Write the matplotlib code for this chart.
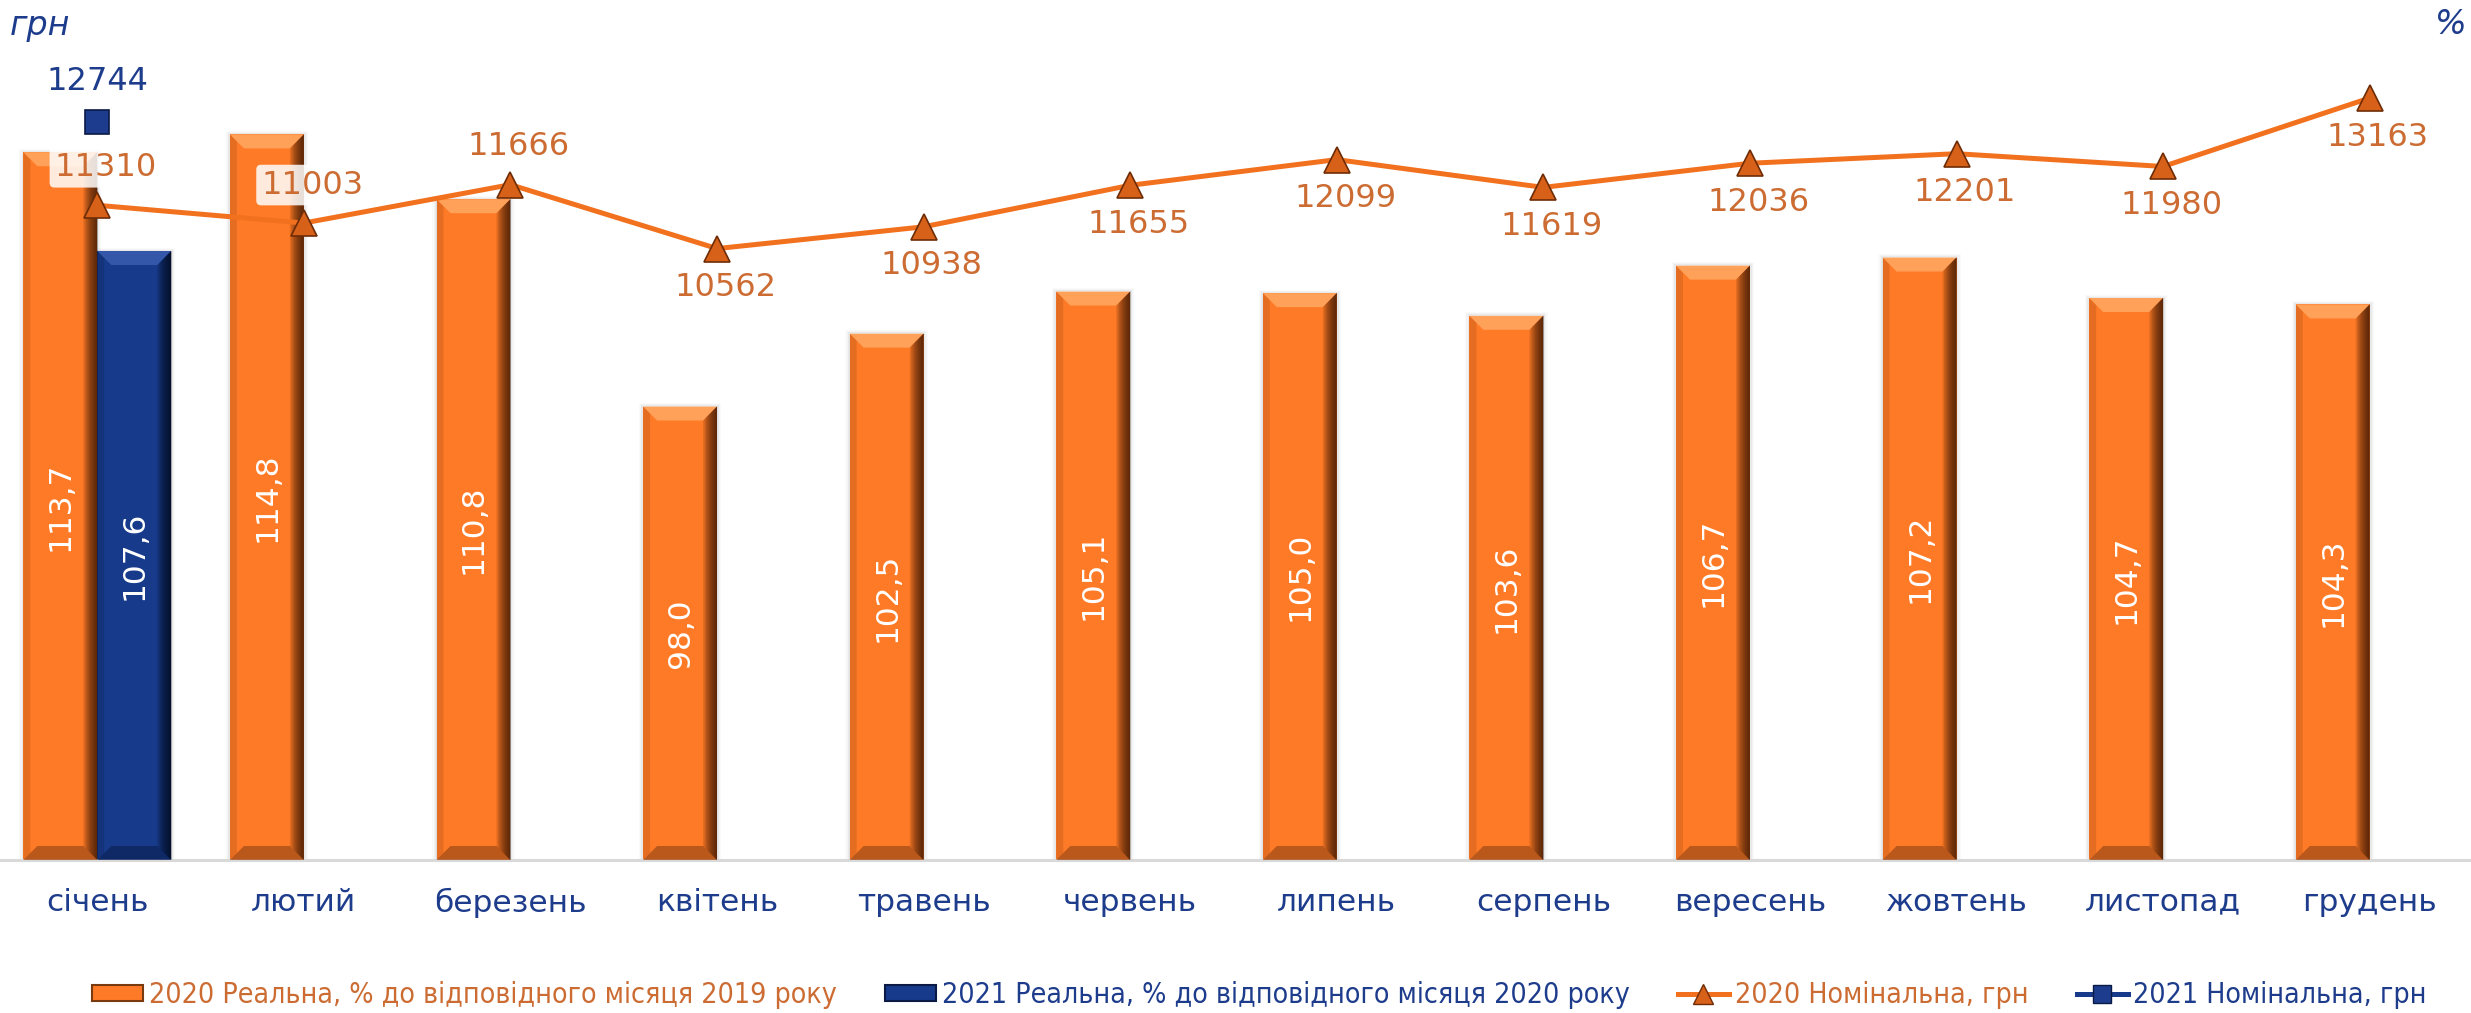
import matplotlib
matplotlib.use('Agg')
import matplotlib.pyplot as plt
from matplotlib.patches import Patch
from matplotlib.lines import Line2D
from matplotlib import font_manager as fm
import numpy as np

# ---------------- data ----------------
months = ['січень', 'лютий', 'березень', 'квітень', 'травень', 'червень',
          'липень', 'серпень', 'вересень', 'жовтень', 'листопад', 'грудень']
real_2020 = [113.7, 114.8, 110.8, 98.0, 102.5, 105.1, 105.0, 103.6, 106.7, 107.2, 104.7, 104.3]
real_2021 = [107.6]
nominal_2020 = [11310, 11003, 11666, 10562, 10938, 11655, 12099, 11619, 12036, 12201, 11980, 13163]
nominal_2021 = [12744]
labels_legend = ['2020 Реальна, % до відповідного місяця 2019 року',
                 '2021 Реальна, % до відповідного місяця 2020 року',
                 '2020 Номінальна, грн',
                 '2021 Номінальна, грн']
label_above_2020 = [True, True, True, False, False, False, False, False, False, False, False, False]

# ---------------- style ----------------
ORANGE = '#FF7A26'
ORANGE_LIGHT = '#FFA862'
ORANGE_DARK = '#2E1203'
ORANGE_BOTTOM = '#A9501A'
BLUE = '#173A8A'
BLUE_LIGHT = '#3A5DB0'
BLUE_DARK = '#020714'
BLUE_BOTTOM = '#0E255E'
LINE_OR = '#F2711F'
TXT_OR = '#CC6C33'
TXT_BL = '#1E3C8C'

W, H = 2471, 1013
DPI = 100
fig = plt.figure(figsize=(W / DPI, H / DPI), dpi=DPI)
fig.patch.set_facecolor('white')

ax_l, ax_r, ax_t, ax_b = -6, 2473, 0, 860
ax = fig.add_axes([ax_l / W, 1 - ax_b / H, (ax_r - ax_l) / W, (ax_b - ax_t) / H])
ax2 = ax.twinx()

x = np.arange(len(months))
ax.set_xlim(-0.5, len(months) - 0.5)
PCT_MIN, PCT_MAX = 70.0, 123.1
UAH_MIN, UAH_MAX = 0, 14856
ax.set_ylim(PCT_MIN, PCT_MAX)
ax2.set_ylim(UAH_MIN, UAH_MAX)

px_x = (len(months)) / (ax_r - ax_l)
px_y = (PCT_MAX - PCT_MIN) / (ax_b - ax_t)

bw = 0.358


def bevel_bars(xc, vals, face, light, dark, bottom):
    for xi, v in zip(xc, vals):
        l, r = xi - bw / 2, xi + bw / 2
        b = PCT_MIN
        for k, a in zip([7, 5, 3], [0.035, 0.05, 0.08]):
            ax.add_patch(plt.Rectangle((l - k * px_x * 0.6, b), (r - l) + 2 * k * px_x * 0.6,
                                       (v - b) + k * px_y * 0.5, facecolor='#7a7a7a',
                                       edgecolor='none', alpha=a, zorder=1))
        ax.bar(xi, v - b, bottom=b, width=bw, color=face, edgecolor='none', zorder=2)
        d = 14 * px_x
        h = 14 * px_y
        ax.fill([l, r, r - d, l + d], [v, v, v - h, v - h], color=light, alpha=0.85, lw=0, zorder=3)
        ax.fill([l, r, r - d, l + d], [b, b, b + h, b + h], color=bottom, alpha=0.8, lw=0, zorder=3)
        n = 10
        for i in range(n):
            xa = r - d * (i + 1) / n
            ax.fill([xa, r, r, xa], [v - h * (i + 1) / n, v, b, b + h * (i + 1) / n],
                    color=dark, alpha=0.13, lw=0, zorder=3)
        ax.fill([l, l + d * 0.5, l + d * 0.5, l], [v, v - h * 0.5, b + h * 0.5, b],
                color=dark, alpha=0.12, lw=0, zorder=3)


bevel_bars(x - bw / 2, real_2020, ORANGE, ORANGE_LIGHT, ORANGE_DARK, ORANGE_BOTTOM)
bevel_bars(x[:len(real_2021)] + bw / 2, real_2021, BLUE, BLUE_LIGHT, BLUE_DARK, BLUE_BOTTOM)

for xi, v in zip(x - bw / 2, real_2020):
    ax.text(xi, (PCT_MIN + v) / 2, f'{v:.1f}'.replace('.', ','), rotation=90,
            ha='center', va='center', color='white', fontsize=22.5, zorder=5)
for xi, v in zip(x[:len(real_2021)] + bw / 2, real_2021):
    ax.text(xi, (PCT_MIN + v) / 2, f'{v:.1f}'.replace('.', ','), rotation=90,
            ha='center', va='center', color='white', fontsize=22.5, zorder=5)

ax2.plot(x, nominal_2020, color=LINE_OR, lw=3.6, marker='^', ms=19,
         markerfacecolor='#D8611A', markeredgecolor='#6E2C06', mew=1.2, zorder=6)
ax2.plot(x[:len(nominal_2021)], nominal_2021, color=BLUE, lw=3.6, marker='s', ms=17,
         markerfacecolor='#1D3C8E', markeredgecolor='#0A1A44', mew=1.2, zorder=6)

uah_px = (UAH_MAX - UAH_MIN) / (ax_b - ax_t)
for xi, v, up in zip(x, nominal_2020, label_above_2020):
    ax2.text(xi + 0.04, v + 38 * uah_px if up else v - 39 * uah_px, f'{v}', ha='center', va='center',
             color=TXT_OR, fontsize=23, zorder=7,
             bbox=dict(boxstyle='round,pad=0.15', fc='white', ec='none', alpha=0.85))
for xi, v in zip(x[:len(nominal_2021)], nominal_2021):
    ax2.text(xi, v + 41 * uah_px, f'{v}', ha='center', va='center',
             color=TXT_BL, fontsize=23, zorder=7,
             bbox=dict(boxstyle='round,pad=0.15', fc='white', ec='none', alpha=0.85))

for a in (ax, ax2):
    for s in a.spines.values():
        s.set_visible(False)
    a.set_yticks([])
ax.spines['bottom'].set_visible(True)
ax.spines['bottom'].set_color('#D9D9D9')
ax.spines['bottom'].set_linewidth(2.2)
ax.set_xticks(x)
ax.set_xticklabels(months, fontsize=22.5, color=TXT_BL)
ax.tick_params(axis='x', length=0, pad=20)
ax2.tick_params(axis='x', length=0)

fig.text(10 / W, 1 - 26 / H, 'грн', fontsize=24, style='italic', color=TXT_BL, va='center', ha='left')
fig.text(2467 / W, 1 - 25 / H, '%', fontsize=24, style='italic', color=TXT_BL, va='center', ha='right')

# legend font: prefer a narrow face (like Calibri in the original)
leg_font = None
for f in fm.fontManager.ttflist:
    if f.name == 'Liberation Sans Narrow' and f.style == 'normal' and f.weight in (400, 'normal', 'regular'):
        leg_font = f.fname
        break
if leg_font is None:
    for f in fm.fontManager.ttflist:
        fn = f.fname
        if ('Condensed' in fn or 'Narrow' in fn) and f.style == 'normal' and \
                'Bold' not in fn and 'Italic' not in fn and 'Oblique' not in fn and \
                'Light' not in fn and 'Thin' not in fn and 'Medium' not in fn and 'Semi' not in fn \
                and 'Black' not in fn and 'Extra' not in fn:
            leg_font = fn
            break


def make_prop(size):
    if leg_font:
        return fm.FontProperties(fname=leg_font, size=size)
    return fm.FontProperties(family='DejaVu Sans', size=size)


handles = [Patch(facecolor=ORANGE, edgecolor='#7A3A10', lw=1.5),
           Patch(facecolor=BLUE, edgecolor='#0A1A44', lw=1.5),
           Line2D([0], [0], color=LINE_OR, lw=3.6, marker='^', ms=15,
                  markerfacecolor='#D8611A', markeredgecolor='#6E2C06'),
           Line2D([0], [0], color=BLUE, lw=3.6, marker='s', ms=13,
                  markerfacecolor='#1D3C8E', markeredgecolor='#0A1A44')]

target_w = 2427 - 92
cx = (2427 + 92) / 2 / W
size = 22.0
leg = None
for it in range(4):
    if leg is not None:
        leg.remove()
    leg = fig.legend(handles, labels_legend, ncol=4, loc='center', bbox_to_anchor=(cx, 1 - 995 / H),
                     frameon=False, prop=make_prop(size),
                     handlelength=51 / (size * DPI / 72), handleheight=0.5,
                     handletextpad=0.2, columnspacing=1.7, borderpad=0, borderaxespad=0)
    fig.canvas.draw()
    wpx = leg.get_window_extent().width
    size = size * target_w / wpx

for t, c in zip(leg.get_texts(), [TXT_OR, TXT_BL, TXT_OR, TXT_BL]):
    t.set_color(c)

fig.savefig('out.png', dpi=DPI, facecolor='white')
